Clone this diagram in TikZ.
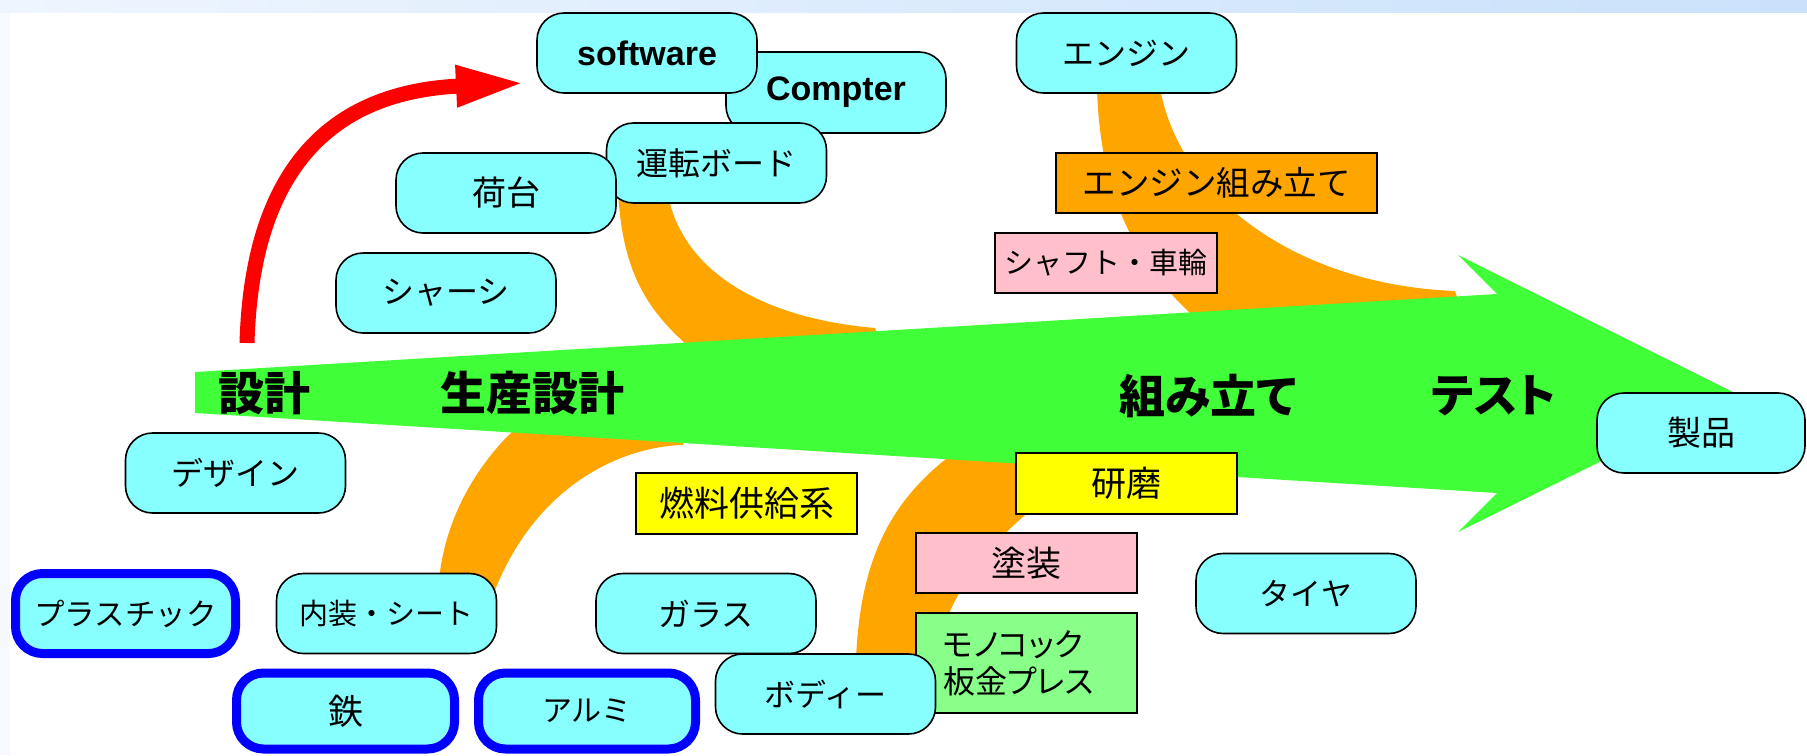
\documentclass[tikz,border=0pt]{standalone}
\usepackage{fontspec}
\setmainfont{Liberation Sans}
\newfontfamily\jp{Noto Sans CJK JP}
\newfontfamily\jpp[RawFeature=+palt]{Noto Sans CJK JP}
\usetikzlibrary{arrows.meta}
\definecolor{cyanbox}{RGB}{136,255,255}
\definecolor{orangeflow}{RGB}{255,165,0}
\definecolor{arrowgreen}{RGB}{64,255,56}
\definecolor{pinkbox}{RGB}{255,192,203}
\definecolor{yellowbox}{RGB}{255,255,0}
\definecolor{lgreenbox}{RGB}{136,255,136}
\definecolor{blueborder}{RGB}{0,0,255}
\definecolor{topL}{RGB}{238,245,254}
\definecolor{topR}{RGB}{201,225,251}
\definecolor{sideL}{RGB}{246,249,254}
\begin{document}
\begin{tikzpicture}[x=1pt,y=-1pt,
  part/.style={draw=black, line width=1.6pt, fill=cyanbox, rounded corners=27pt,
    minimum width=220pt, minimum height=80pt, inner sep=0pt,
    font=\jp\fontsize{32}{37}\selectfont},
  material/.style={part, draw=blueborder, line width=9pt},
  stepbox/.style={draw=black, line width=1.6pt, minimum width=221pt, minimum height=60pt,
    inner sep=0pt, font=\jp\fontsize{32}{37}\selectfont},
  phase/.style={inner sep=0pt, font=\jpp\bfseries\fontsize{46}{50}\selectfont},
  latin/.style={font=\bfseries\fontsize{34}{40}\selectfont},
  flow/.style={fill=orangeflow},
]
% background and frame
\useasboundingbox (0,0) rectangle (1807,755);
\fill[white] (0,0) rectangle (1807,755);
\fill[sideL] (0,0) rectangle (10,755);
\shade[left color=topL, right color=topR] (0,0) rectangle (1807,12);

% orange flows
\fill[flow] (618,190) .. controls (622,270) and (645,310) .. (695,352) -- (880,340) -- (875,328)
  .. controls (760,318) and (680,270) .. (667,190) -- cycle;
\fill[flow] (439,580) .. controls (447,500) and (495,445) .. (525,420) -- (690,425) -- (683,445)
  .. controls (630,446) and (540,478) .. (495,590) -- cycle;
\fill[flow] (856,660) .. controls (860,560) and (890,500) .. (955,452) -- (1100,458) -- (1100,466)
  .. controls (1030,500) and (950,570) .. (935,660) -- cycle;
\fill[flow] (1097,88) .. controls (1100,200) and (1140,270) .. (1200,322) -- (1460,306) -- (1455,291)
  .. controls (1300,285) and (1180,200) .. (1160,88) -- cycle;

% big green process arrow
\fill[arrowgreen] (195,372) -- (1497,294) -- (1458,255) -- (1737,394) -- (1458,532)
  -- (1497,493) -- (195,413) -- cycle;

% red arrow
\coordinate (redstart) at (247,343);
\coordinate (redend) at (525,83);
\draw[red, line width=15pt, -{Triangle[length=69pt,width=38pt]}]
  (redstart) .. controls (252,170) and (330,92) .. (redend);

% phase labels
\node[phase] (p1) at (264,393) {設計};
\node[phase] (p2) at (532,393) {生産設計};
\node[phase] (p3) at (1208,396) {組み立て};
\node[phase] (p4) at (1494,396) {テスト};

% parts (upper)
\node[part, latin, minimum height=81pt] (cp) at (836,92.5) {Compter};
\node[part, latin] (sw) at (647,53) {software};
\node[part] (unten) at (716.5,163) {運転ボード};
\node[part, font=\jp\fontsize{34}{39}\selectfont] (nidai) at (506,193) {荷台};
\node[part] (chassis) at (446,293) {シャーシ};
\node[part] (engine) at (1126.5,53) {エンジン};
\node[stepbox, fill=orangeflow, minimum width=321pt, font=\jp\fontsize{33.5}{38}\selectfont] (ekumi) at (1216.5,183) {エンジン組み立て};
\node[stepbox, fill=pinkbox, minimum width=222pt, font=\jp\fontsize{29}{34}\selectfont] (shaft) at (1106,263) {シャフト・車輪};

% parts (lower)
\node[part] (design) at (235.5,473) {デザイン};
\node[stepbox, fill=yellowbox, minimum height=61pt, font=\jp\fontsize{35}{40}\selectfont] (nenryo) at (746.5,503.5) {燃料供給系};
\node[stepbox, fill=yellowbox, minimum height=61pt, font=\jp\fontsize{35}{40}\selectfont] (kenma) at (1126.5,483.5) {研磨};
\node[stepbox, fill=pinkbox, font=\jp\fontsize{35}{40}\selectfont] (tosou) at (1026.5,563) {塗装};
\node[stepbox, fill=lgreenbox, minimum height=100pt, align=left, text width=167pt, font=\jpp\fontsize{32}{37}\selectfont] (mono) at (1026.5,663) {モノコック\\板金プレス};
\node[material, font=\jp\fontsize{30.5}{36}\selectfont] (plastic) at (125.5,613.5) {プラスチック};
\node[part, font=\jp\fontsize{29}{34}\selectfont] (naisou) at (386.5,613.5) {内装・シート};
\node[part] (glass) at (706,613.5) {ガラス};
\node[material, minimum width=218pt, minimum height=76pt, font=\jp\fontsize{35}{40}\selectfont] (tetsu) at (345.5,711) {鉄};
\node[material, minimum width=217pt, minimum height=76pt, font=\jp\fontsize{30}{35}\selectfont] (alumi) at (587,711) {アルミ};
\node[part, font=\jp\fontsize{31}{36}\selectfont] (body) at (825.5,694) {ボディー};
\node[part, font=\jp\fontsize{31}{36}\selectfont] (tire) at (1306,593.5) {タイヤ};
\node[part, minimum width=208pt, font=\jp\fontsize{34}{39}\selectfont] (seihin) at (1701,433) {製品};
\end{tikzpicture}
\end{document}
